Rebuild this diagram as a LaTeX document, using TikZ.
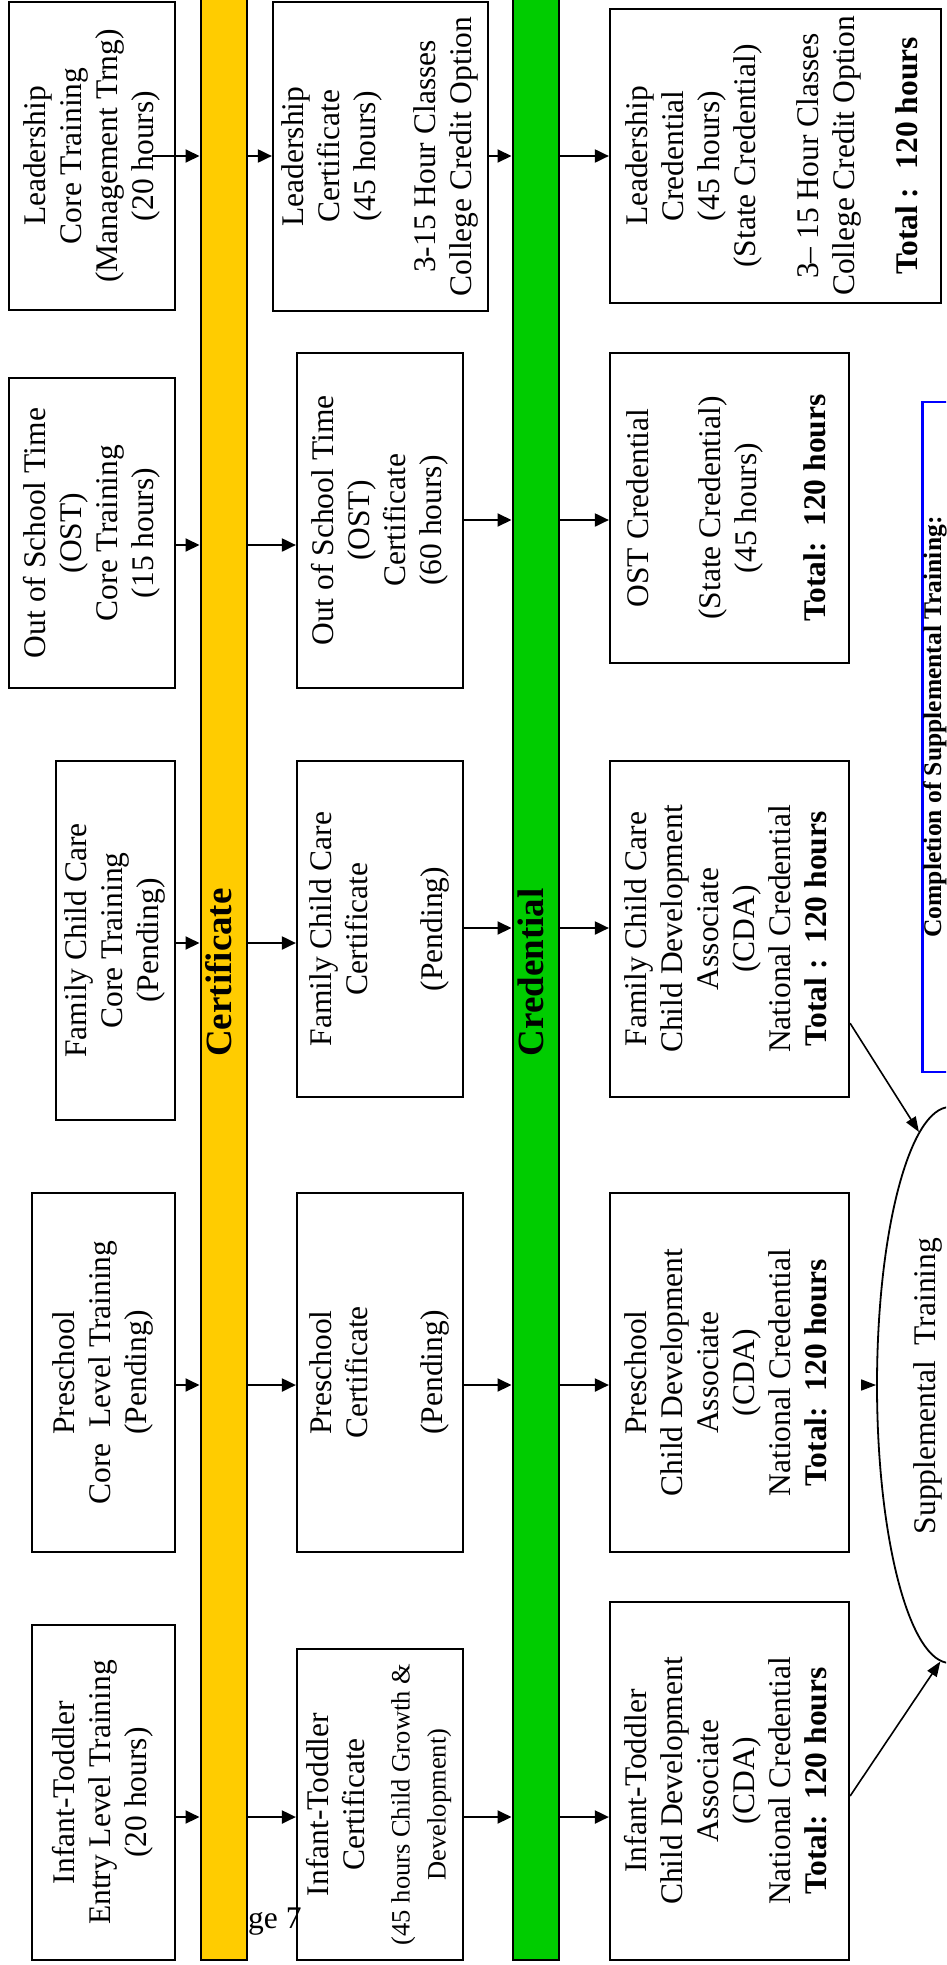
\documentclass[tikz,border=0pt]{standalone}
\usepackage{fontspec}
\setmainfont{Liberation Serif}
\usepackage{graphicx}
\usepackage{xcolor}
\usepackage{tikz}
\usetikzlibrary{arrows.meta, shapes.geometric}
\definecolor{certyellow}{HTML}{FFCC00}
\definecolor{credgreen}{HTML}{00CC00}
\newcommand{\vlines}[1]{\rotatebox{90}{\begin{tabular}{@{}c@{}}#1\end{tabular}}}
\newcommand{\smallhrs}{\fontsize{26.5}{36}\selectfont}

\begin{document}
\begin{tikzpicture}[
  x=1pt, y=-1pt,
  box/.style={rectangle, draw, line width=2.2pt, inner sep=0pt, font=\fontsize{31.5}{36}\selectfont},
  bar/.style={rectangle, draw, line width=2pt, inner sep=0pt, minimum width=46, minimum height=1975, font=\fontsize{37}{40}\selectfont\bfseries},
  arr/.style={-{Triangle[length=14pt, width=13pt]}, line width=2pt},
  thinarr/.style={-{Triangle[length=15pt, width=11pt]}, line width=1.6pt}
]
  \useasboundingbox (0,0) rectangle (946,1965);
  \fill[white] (0,0) rectangle (946,1965);
  \clip (0,0) rectangle (946,1965);

  % Bars
  \node[bar, fill=certyellow] (ybar) at (223.5, 972.5) {\vlines{Certificate}};
  \node[bar, fill=credgreen] (gbar) at (535.5, 972.5) {\vlines{Credential}};

  % Core training
  \node[box, minimum width=166, minimum height=308] (lcore) at (92, 156)
    {\vlines{Leadership\\ Core Training\\ (Management Trng)\\ (20 hours)}};
  \node[box, minimum width=166, minimum height=310] (ocore) at (92, 533)
    {\vlines{Out of School Time\\ (OST)\\ Core Training\\ (15 hours)}};
  \node[box, minimum width=119, minimum height=359] (fcore) at (115.5, 940.5)
    {\vlines{Family Child Care\\ Core Training\\ (Pending)}};
  \node[box, minimum width=143, minimum height=359] (pcore) at (103.5, 1372.5)
    {\vlines{Preschool\\ Core\ \ Level Training\\ (Pending)}};
  \node[box, minimum width=143, minimum height=335] (icore) at (103.5, 1792.5)
    {\vlines{Infant-Toddler\\ Entry Level Training\\ (20 hours)}};

  % Certificates
  \node[box, minimum width=215, minimum height=309] (lcert) at (380.5, 156.5)
    {\vlines{Leadership\\ Certificate\\ (45 hours)\\[24pt] 3-15 Hour Classes\\ College Credit Option}};
  \node[box, minimum width=166, minimum height=335] (ocert) at (380, 520.5)
    {\vlines{Out of School Time\\ (OST)\\ Certificate\\ (60 hours)}};
  \node[box, minimum width=166, minimum height=336] (fcert) at (380, 929)
    {\vlines{Family Child Care\\ Certificate\\[39pt] (Pending)}};
  \node[box, minimum width=166, minimum height=359] (pcert) at (380, 1372.5)
    {\vlines{Preschool\\ Certificate\\[39pt] (Pending)}};
  \node[box, minimum width=166, minimum height=311] (icert) at (380, 1804.5)
    {\vlines{Infant-Toddler\\ Certificate\\[9pt] {\smallhrs (45 hours Child Growth \&}\\ {\smallhrs Development)}}};

  % Credentials
  \node[box, minimum width=331, minimum height=294] (lcred) at (775.5, 156)
    {\vlines{Leadership\\ Credential\\ (45 hours)\\ (State Credential)\\[27pt] 3-- 15 Hour Classes\\ College Credit Option\\[27pt] \textbf{Total : \ 120 hours}}};
  \node[box, minimum width=239, minimum height=310] (ocred) at (729.5, 508)
    {\vlines{OST Credential\\[36pt] (State Credential)\\ (45 hours)\\[33pt] \textbf{Total:\ \ 120 hours}}};
  \node[box, minimum width=239, minimum height=336] (fcred) at (729.5, 929)
    {\vlines{Family Child Care\\ Child Development\\ Associate\\ (CDA)\\ National Credential\\ \textbf{Total :\ \ 120 hours}}};
  \node[box, minimum width=239, minimum height=359] (pcred) at (729.5, 1372.5)
    {\vlines{Preschool\\ Child Development\\ Associate\\ (CDA)\\ National Credential\\ \textbf{Total:\ \ 120 hours}}};
  \node[box, minimum width=239, minimum height=358] (icred) at (729.5, 1781)
    {\vlines{Infant-Toddler\\ Child Development\\ Associate\\ (CDA)\\ National Credential\\ \textbf{Total:\ \ 120 hours}}};

  % Supplemental training
  \node[ellipse, draw, line width=1.8pt, inner sep=0pt, minimum width=146, minimum height=556] (supp) at (950, 1385) {};
  \node[font=\fontsize{31.5}{36}\selectfont] (supptxt) at (928, 1386) {\rotatebox{90}{Supplemental\ \ Training}};
  \node[draw=blue, line width=2.5pt, minimum width=300, minimum height=670, anchor=west] (compbox) at (921, 737) {};
  \node[font=\fontsize{25.5}{30}\selectfont\bfseries] (comptxt) at (935, 727) {\rotatebox{90}{Completion of Supplemental Training:}};

  % Page number peeking out
  \node[font=\fontsize{31.5}{36}\selectfont, anchor=base west, inner sep=0pt] (pgno) at (248, 1928) {ge 7};

  % Arrows across the bars
  \draw[arr] ([xshift=-24pt]lcore.east) -- (lcore.east -| ybar.west);
  \foreach \from/\to/\y in {ybar/lcert/156, lcert/gbar/156, gbar/lcred/156,
      ocore/ybar/545, ybar/ocert/545, ocert/gbar/520, gbar/ocred/520,
      fcore/ybar/943, ybar/fcert/943, fcert/gbar/928, gbar/fcred/928,
      pcore/ybar/1385, ybar/pcert/1385, pcert/gbar/1385, gbar/pcred/1385,
      icore/ybar/1817, ybar/icert/1817, icert/gbar/1817, gbar/icred/1817}
    \draw[arr] (\from.east |- 0,\y) -- (\to.west |- 0,\y);

  % Into supplemental training
  \draw[thinarr] (fcred.-38) -- (supp.97);
  \draw[thinarr, shorten <=11pt] (pcred.east |- supp.west) -- (supp.west);
  \draw[thinarr] (icred.east |- 0,1796) -- (supp.268);
\end{tikzpicture}
\end{document}
